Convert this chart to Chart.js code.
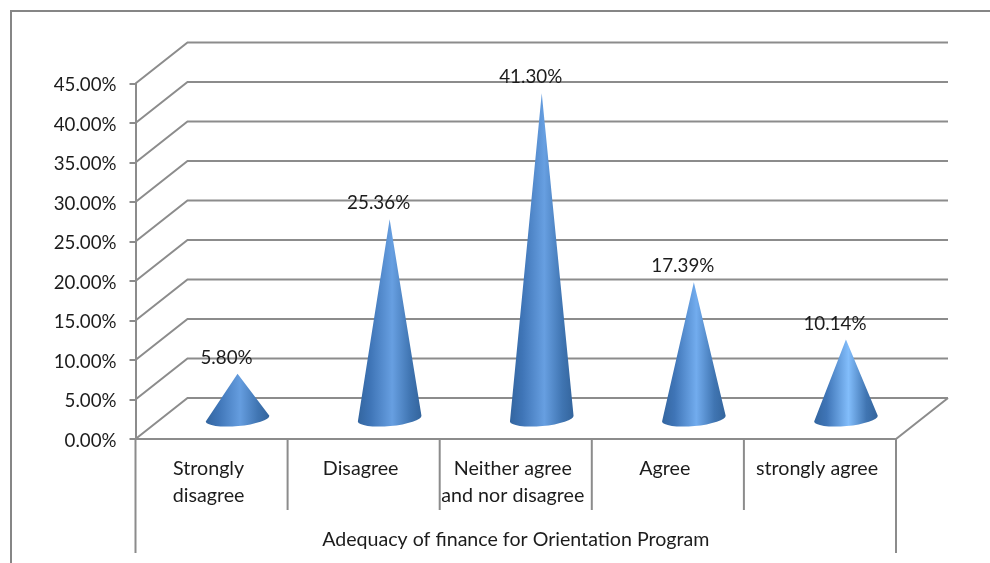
<!DOCTYPE html>
<html>
<head>
<meta charset="utf-8">
<script src="https://cdn.jsdelivr.net/npm/chart.js@4"></script>
<style>
  html, body { margin: 0; background: #fff; overflow: hidden; }
  #wrap { position: relative; width: 990px; height: 563px; }
  #frame { position: absolute; left: 10px; top: 10px; right: 0; bottom: 0;
           border-left: 2px solid #868686; border-top: 2px solid #868686; }
  canvas { position: absolute; left: 0; top: 0; }
</style>
</head>
<body>
<div id="wrap">
  <div id="frame"></div>
  <canvas id="chart" width="990" height="563"></canvas>
</div>
<script>
const categories = [
  ["Strongly", "disagree"],
  "Disagree",
  ["Neither agree", "and nor disagree"],
  "Agree",
  "strongly agree",
];
const shares = [5.8, 25.36, 41.3, 17.39, 10.14];
const axisTitle = "Adequacy of finance for Orientation Program";

const lineColor = "#8c8c8c";
const textColor = "#1c1c1c";
const fontName = "Lato, Carlito, sans-serif";
// sheen in the middle of each cone, lighter towards the right of the chart
const sheen = ["#659ddf", "#679fe1", "#679fe1", "#72acee", "#82bdfb"];

// the floor of the 3d box runs back and up from the axes
const depthX = 52;
const depthY = 41;
const coneLift = 19.4; // cones stand in the middle of the floor
const coneRise = 26;

let box3d = {
  id: "box3d",
  beforeDatasetsDraw(chart) {
    let ctx = chart.ctx;
    let x = chart.scales.x;
    let y = chart.scales.y;
    ctx.save();
    ctx.strokeStyle = lineColor;
    ctx.lineWidth = 2;
    ctx.beginPath();
    y.ticks.forEach(function (t) {
      let py = y.getPixelForValue(t.value);
      ctx.moveTo(x.left, py);
      ctx.lineTo(x.left + depthX, py - depthY);
      ctx.lineTo(x.right + depthX, py - depthY);
    });
    // floor edge on the right and along the front
    let y0 = y.getPixelForValue(0);
    ctx.moveTo(x.right + depthX, y0 - depthY);
    ctx.lineTo(x.right, y0);
    ctx.lineTo(x.left, y0);
    // category separators below the axis
    categories.forEach(function (c, i) {
      let edge = x.getPixelForValue(i) - (x.getPixelForValue(1) - x.getPixelForValue(0)) / 2;
      ctx.moveTo(edge, y0);
      ctx.lineTo(edge, i === 0 ? 553 : 510);
    });
    ctx.moveTo(x.right, y0);
    ctx.lineTo(x.right, 553);
    ctx.stroke();
    ctx.restore();
  },
  afterDatasetsDraw(chart) {
    let ctx = chart.ctx;
    let meta = chart.getDatasetMeta(0);
    meta.data.forEach(function (bar, i) {
      let cx = bar.x + coneRise;
      let tipY = bar.y - coneLift;
      let baseY = bar.base - coneLift;
      let rx = bar.width / 2;
      let tilt = -0.09;
      let grad = ctx.createLinearGradient(cx - rx, 0, cx + rx, 0);
      grad.addColorStop(0, "#33659f");
      grad.addColorStop(0.2, "#3f75b7");
      grad.addColorStop(0.54, sheen[i]);
      grad.addColorStop(0.82, "#4075b2");
      grad.addColorStop(1, "#33649c");
      ctx.save();
      ctx.fillStyle = grad;
      ctx.beginPath();
      ctx.moveTo(cx, tipY);
      ctx.ellipse(cx, baseY, rx, 7.5, tilt, 0, Math.PI);
      ctx.closePath();
      ctx.fill();
      ctx.restore();

      // value label sits up and to the left of the tip
      ctx.save();
      ctx.font = "18.8px " + fontName;
      ctx.fillStyle = textColor;
      ctx.textAlign = "center";
      ctx.textBaseline = "middle";
      ctx.fillText(shares[i].toFixed(2) + "%", cx - 11, tipY - 16);
      ctx.restore();
    });
  },
};

new Chart(document.getElementById("chart").getContext("2d"), {
  type: "bar",
  data: {
    labels: categories,
    datasets: [
      {
        data: shares,
        backgroundColor: "rgba(0,0,0,0)",
        borderWidth: 0,
        categoryPercentage: 1,
        barPercentage: 0.42,
      },
    ],
  },
  plugins: [box3d],
  options: {
    responsive: false,
    animation: false,
    layout: { padding: { top: 83.5, right: 94, left: 0, bottom: 0 } },
    plugins: { legend: { display: false }, tooltip: { enabled: false } },
    scales: {
      x: {
        afterFit(scale) {
          scale.height = 124;
        },
        grid: { display: false },
        border: { display: false },
        ticks: {
          autoSkip: false,
          maxRotation: 0,
          padding: 8,
          labelOffset: -3,
          color: textColor,
          font: { family: fontName, size: 19.7, lineHeight: 1.37 },
        },
        title: {
          display: true,
          text: axisTitle,
          color: textColor,
          font: { family: fontName, size: 19.6 },
          padding: { top: 0, bottom: 12 },
        },
      },
      y: {
        min: 0,
        max: 45,
        afterFit(scale) {
          scale.width = 135.5;
        },
        grid: { drawOnChartArea: false, color: lineColor, lineWidth: 2, tickLength: 6 },
        border: { color: lineColor, width: 2 },
        ticks: {
          stepSize: 5,
          padding: 13,
          labelOffset: 1.5,
          color: textColor,
          font: { family: fontName, size: 18.7 },
          callback: function (v) {
            return v.toFixed(2) + "%";
          },
        },
      },
    },
  },
});
</script>
</body>
</html>
